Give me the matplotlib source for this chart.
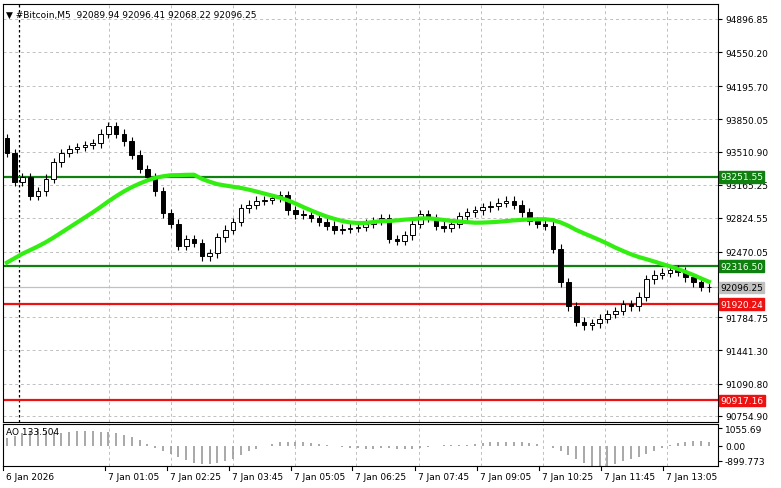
import matplotlib
matplotlib.use("Agg")
import matplotlib.pyplot as plt
import numpy as np

closes = [93500,93200,93250,93050,93100,93230,93400,93500,93540,93560,93580,93600,93700,93780,93700,
          93620,93480,93330,93250,93100,92870,92760,92530,92600,92560,92420,92450,92620,92700,92780,
          92920,92960,93000,93010,93030,93060,92900,92860,92850,92820,92780,92740,92700,92710,92720,
          92730,92760,92790,92820,92600,92580,92640,92760,92860,92820,92740,92720,92760,92840,92880,
          92900,92930,92950,92980,93000,92960,92880,92790,92760,92740,92500,92150,91900,91740,91700,
          91720,91770,91820,91850,91920,91900,92000,92180,92230,92250,92280,92260,92200,92150,92100,92096]
first_open = 93650
history = [92050,92080,92100,92120,92150,92180,92200,92230,92250,92270,92290,92300,92320,92340,
           92360,92380,92400,92420,92440,92460,92480,92500,92520,92540]
levels_green = [93251.55, 92316.50]
levels_red = [91920.24, 90917.16]
last_price = 92096.25
yticks = [94896.85,94550.20,94195.70,93850.05,93510.90,93165.25,92824.55,92470.05,91784.75,91441.30,91090.80,90754.90]
xlabels = ["6 Jan 2026","7 Jan 01:05","7 Jan 02:25","7 Jan 03:45","7 Jan 05:05","7 Jan 06:25",
           "7 Jan 07:45","7 Jan 09:05","7 Jan 10:25","7 Jan 11:45","7 Jan 13:05"]
xlabel_px = [3,105,167,229,291,352,415,477,539,601,663]

W, H = 781, 489
fig = plt.figure(figsize=(W/100, H/100), dpi=100)
fig.patch.set_facecolor("white")
ax = fig.add_axes([3/W, 1-423/H, 715/W, 418/H])
ax2 = fig.add_axes([3/W, 1-467/H, 715/W, 42/H])
step = 7.8
n = len(closes)
opens = [first_open] + closes[:-1]
xl = (-0.5, 715/step - 0.5)
for a in (ax, ax2):
    a.set_xlim(*xl)
    for s in a.spines.values():
        s.set_color("black"); s.set_linewidth(0.8)
    a.yaxis.tick_right()
    a.tick_params(axis='y', labelsize=6.5, length=3, pad=2)
    a.set_xticks([])
gx = [ (p-3)/step for p in xlabel_px]
for g in gx[1:]:
    ax.axvline(g, color="#c0c0c0", ls=(0,(3,3)), lw=0.7)
    ax2.axvline(g, color="#c0c0c0", ls=(0,(3,3)), lw=0.7)
for t in yticks:
    ax.axhline(t, color="#c0c0c0", ls=(0,(3,3)), lw=0.7)
ax.set_ylim(90692, 95053)
ax.set_yticks(yticks)
ax.set_yticklabels([f"{t:.2f}" for t in yticks])
ax.axvline(1.5, color="black", ls=(0,(2,2)), lw=0.9)

wick = 45
for i,(o,c) in enumerate(zip(opens, closes)):
    hi, lo = max(o,c)+wick, min(o,c)-wick
    ax.vlines(i, lo, hi, color="black", lw=0.8, zorder=3)
    b = max(abs(c-o), 8)
    ax.bar(i, b, bottom=min(o,c), width=0.6, color="white" if c>=o else "black",
           edgecolor="black", lw=0.7, zorder=4)

allc = np.array(history + closes, dtype=float)
ma = np.convolve(allc, np.ones(25)/25, mode="valid")[-n:]
ax.plot(range(n), ma, color="#33ee11", lw=3, zorder=5)

for lv in levels_green:
    ax.axhline(lv, color="#108010", lw=1.6, zorder=2)
for lv in levels_red:
    ax.axhline(lv, color="#ee1111", lw=1.6, zorder=2)
ax.axhline(last_price, color="#c0c0c0", lw=0.9, zorder=2)

def tag(a, y, txt, bg, fg):
    a.text(1.003, y, txt, transform=a.get_yaxis_transform(), fontsize=6.5, va="center",
           ha="left", color=fg, bbox=dict(boxstyle="square,pad=0.15", fc=bg, ec=bg), zorder=10)
for lv in levels_green:
    tag(ax, lv, f"{lv:.2f}", "#108010", "white")
for lv in levels_red:
    tag(ax, lv, f"{lv:.2f}", "#ee1111", "white")
tag(ax, last_price, f"{last_price:.2f}", "#c0c0c0", "black")

ax.text(0.004, 0.985, "▼ #Bitcoin,M5  92089.94 92096.41 92068.22 92096.25", transform=ax.transAxes,
        fontsize=6.5, va="top", ha="left")

# AO
ao_full = np.convolve(allc, np.ones(5)/5, mode="valid")
ao_long = np.convolve(allc, np.ones(20)/20, mode="valid")
ao = (ao_full[-n:] - ao_long[-n:]) * 1.6
ax2.vlines(range(n), 0, ao, color="#9a9a9a", lw=1.2)
ax2.set_ylim(-1200, 1300)
ax2.set_yticks([1055.69, 0.0, -899.773])
ax2.set_yticklabels(["1055.69", "0.00", "-899.773"])
ax2.text(0.004, 0.93, "AO 133.504", transform=ax2.transAxes, fontsize=6.5, va="top", ha="left")

for lab, p in zip(xlabels, xlabel_px):
    fig.text((p+3)/W, 1-478/H, lab, fontsize=6.5, ha="left", va="center")
    fig.add_artist(plt.Line2D([p/W, p/W], [1-467/H, 1-471/H], color="black", lw=0.8))

fig.savefig("out.png", dpi=100)
